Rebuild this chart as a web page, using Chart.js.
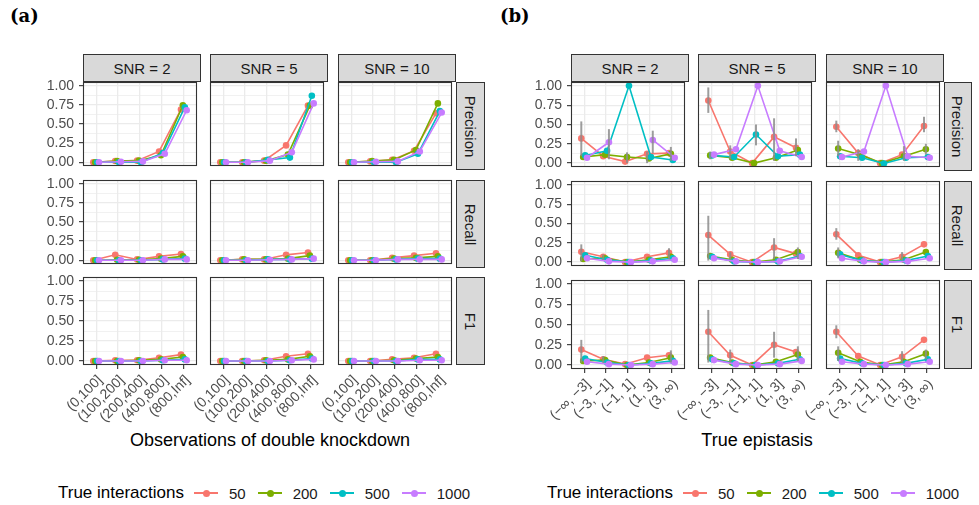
<!DOCTYPE html>
<html lang="en">
<head>
<meta charset="UTF-8">
<title>Precision, recall and F1 by SNR</title>
<script src="https://cdn.jsdelivr.net/npm/chart.js"></script>
<style>
    body { margin: 0; background: #fff; font-family: "Liberation Sans", Arial, sans-serif; }
    #fig { position: relative; width: 979px; height: 505px; overflow: hidden; }
    canvas { position: absolute; }
    .strip {
        position: absolute; box-sizing: border-box;
        background: #d9d9d9; border: 1px solid #333;
        color: #1a1a1a; font-size: 15px;
        display: flex; align-items: center; justify-content: center;
    }
    .strip.right span { transform: rotate(90deg); white-space: nowrap; }
    .tag { position: absolute; font-family: "DejaVu Serif", serif; font-weight: bold; font-size: 18px; }
    .xtitle { position: absolute; font-size: 18px; color: #000; transform: translateX(-50%); white-space: nowrap; }
    .legend { position: absolute; display: flex; align-items: center; font-size: 15px; color: #1a1a1a; height: 20px; }
    .legend .ttl { font-size: 17px; color: #000; }
    .key { position: relative; display: inline-block; width: 24px; height: 2px; margin-left: 12px; }
    .key i { position: absolute; left: 9px; top: -2.5px; width: 7px; height: 7px; border-radius: 50%; background: inherit; }
    .legend .ttl + .key { margin-left: 10px; }
    .lab { margin-left: 11px; }
</style>
</head>
<body>
<div id="fig">
    <div class="tag" style="left:10px;top:5px">(a)</div>
    <div class="tag" style="left:500px;top:5px">(b)</div>
    <div class="xtitle" style="left:270px;top:430px">Observations of double knockdown</div>
    <div class="xtitle" style="left:757px;top:430px">True epistasis</div>
</div>

<script>
// categories and labels
const seriesNames = ["50", "200", "500", "1000"];
const seriesColors = ["#F8766D", "#7CAE00", "#00BFC4", "#C77CFF"];
const snrLabels = ["SNR = 2", "SNR = 5", "SNR = 10"];
const metricLabels = ["Precision", "Recall", "F1"];
const obsBins = ["(0,100]", "(100,200]", "(200,400]", "(400,800]", "(800,Inf]"];
const epiBins = ["(\u2212\u221E, \u22123]", "(\u22123, \u22121]", "(\u22121, 1]", "(1, 3]", "(3, \u221E)"];
const yTickValues = [0, 0.125, 0.25, 0.375, 0.5, 0.625, 0.75, 0.875, 1];

// (a) rows = series 50, 200, 500, 1000 ; columns = obsBins
const obsPrecisionSnr2 = [
    [0.00, 0.015, 0.02, 0.14, 0.69],
    [0.00, 0.015, 0.02, 0.09, 0.745],
    [0.00, 0.00, 0.00, 0.12, 0.72],
    [0.00, 0.005, 0.01, 0.11, 0.68]
];
const obsPrecisionSnr5 = [
    [0.00, 0.00, 0.02, 0.22, 0.74],
    [0.00, 0.00, 0.02, 0.10, 0.74],
    [0.00, 0.00, 0.03, 0.06, 0.87],
    [0.00, 0.00, 0.02, 0.13, 0.77]
];
const obsPrecisionSnr10 = [
    [0.00, 0.01, 0.03, 0.15, 0.64],
    [0.00, 0.015, 0.03, 0.16, 0.77],
    [0.00, 0.00, 0.00, 0.11, 0.67],
    [0.00, 0.005, 0.01, 0.14, 0.65]
];
const obsRecallSnr2 = [
    [0.00, 0.07, 0.01, 0.05, 0.08],
    [0.00, 0.005, 0.005, 0.02, 0.05],
    [0.00, 0.00, 0.00, 0.01, 0.02],
    [0.00, 0.00, 0.00, 0.01, 0.01]
];
const obsRecallSnr5 = [
    [0.00, 0.01, 0.01, 0.07, 0.10],
    [0.00, 0.01, 0.01, 0.02, 0.06],
    [0.00, 0.00, 0.01, 0.01, 0.02],
    [0.00, 0.00, 0.005, 0.01, 0.02]
];
const obsRecallSnr10 = [
    [0.00, 0.00, 0.03, 0.06, 0.09],
    [0.00, 0.00, 0.02, 0.03, 0.05],
    [0.00, 0.00, 0.01, 0.02, 0.02],
    [0.00, 0.00, 0.01, 0.01, 0.01]
];
const obsF1Snr2 = [
    [0.00, 0.01, 0.01, 0.04, 0.08],
    [0.00, 0.00, 0.01, 0.02, 0.05],
    [0.00, 0.00, 0.00, 0.01, 0.02],
    [0.00, 0.00, 0.00, 0.01, 0.01]
];
const obsF1Snr5 = [
    [0.00, 0.00, 0.01, 0.06, 0.09],
    [0.00, 0.00, 0.01, 0.02, 0.06],
    [0.00, 0.00, 0.00, 0.01, 0.03],
    [0.00, 0.00, 0.00, 0.01, 0.02]
];
const obsF1Snr10 = [
    [0.00, 0.00, 0.02, 0.04, 0.09],
    [0.00, 0.00, 0.01, 0.03, 0.05],
    [0.00, 0.00, 0.00, 0.02, 0.02],
    [0.00, 0.00, 0.00, 0.01, 0.01]
];

// (b) rows = series ; columns = epiBins
const epiPrecisionSnr2 = [
    [0.32, 0.09, 0.02, 0.12, 0.13],
    [0.08, 0.11, 0.08, 0.06, 0.12],
    [0.10, 0.16, 1.00, 0.08, 0.04],
    [0.07, 0.27, null, 0.30, 0.07]
];
const epiPrecisionSnr5 = [
    [0.81, 0.15, 0.00, 0.34, 0.20],
    [0.10, 0.07, 0.00, 0.07, 0.17],
    [0.10, 0.08, 0.37, 0.09, 0.11],
    [0.11, 0.18, 1.00, 0.16, 0.08]
];
const epiPrecisionSnr10 = [
    [0.47, 0.13, 0.00, 0.11, 0.48],
    [0.19, 0.11, 0.00, 0.09, 0.18],
    [0.09, 0.07, -0.005, 0.07, 0.08],
    [0.08, 0.15, 1.00, 0.09, 0.07]
];
const epiRecallSnr2 = [
    [0.135, 0.07, 0.00, 0.07, 0.12],
    [0.04, 0.05, 0.00, 0.03, 0.07],
    [0.09, 0.03, 0.00, 0.02, 0.05],
    [0.05, 0.01, 0.00, 0.01, 0.03]
];
const epiRecallSnr5 = [
    [0.35, 0.10, 0.00, 0.19, 0.11],
    [0.08, 0.03, 0.00, 0.03, 0.13],
    [0.07, 0.01, 0.00, 0.01, 0.08],
    [0.05, 0.01, 0.00, 0.01, 0.07]
];
const epiRecallSnr10 = [
    [0.36, 0.09, 0.00, 0.07, 0.23],
    [0.12, 0.03, 0.00, 0.03, 0.13],
    [0.10, 0.02, 0.00, 0.02, 0.08],
    [0.05, 0.01, 0.00, 0.01, 0.05]
];
const epiF1Snr2 = [
    [0.19, 0.07, 0.01, 0.09, 0.12],
    [0.05, 0.06, 0.00, 0.03, 0.09],
    [0.08, 0.03, 0.00, 0.02, 0.05],
    [0.04, 0.01, 0.00, 0.01, 0.03]
];
const epiF1Snr5 = [
    [0.41, 0.12, 0.00, 0.25, 0.16],
    [0.09, 0.03, 0.00, 0.04, 0.13],
    [0.07, 0.02, 0.00, 0.02, 0.07],
    [0.06, 0.01, 0.00, 0.01, 0.05]
];
const epiF1Snr10 = [
    [0.41, 0.11, 0.00, 0.10, 0.31],
    [0.15, 0.04, 0.00, 0.04, 0.14],
    [0.08, 0.02, 0.00, 0.02, 0.07],
    [0.04, 0.01, 0.00, 0.01, 0.04]
];

// (b) error bars [low, high], same layout as the values
const _ = null;
const epiPrecisionSnr2Err = [
    [[0.09, 0.54], _, _, [0.00, 0.15], _],
    [_, _, [0.00, 0.14], _, [0.03, 0.21]],
    [_, _, _, _, _],
    [_, [0.05, 0.44], _, [0.13, 0.42], _]
];
const epiPrecisionSnr5Err = [
    [[0.65, 0.98], [0.05, 0.23], _, [0.03, 0.58], [0.09, 0.32]],
    [[0.05, 0.15], _, _, _, _],
    [_, _, [0.23, 0.50], _, _],
    [_, _, _, _, _]
];
const epiPrecisionSnr10Err = [
    [[0.40, 0.55], [0.03, 0.18], _, _, [0.40, 0.60]],
    [[0.09, 0.29], _, _, [0.03, 0.22], [0.11, 0.25]],
    [_, _, _, _, _],
    [_, _, _, _, _]
];
const epiRecallSnr2Err = [
    [[0.01, 0.23], [0.03, 0.10], _, _, [0.04, 0.18]],
    [_, _, _, _, _],
    [_, _, _, _, _],
    [_, _, _, _, _]
];
const epiRecallSnr5Err = [
    [[0.02, 0.60], [0.03, 0.13], _, [0.04, 0.31], _],
    [_, _, _, _, [0.04, 0.19]],
    [_, _, _, _, _],
    [_, _, _, _, _]
];
const epiRecallSnr10Err = [
    [[0.29, 0.44], _, _, [0.02, 0.13], _],
    [[0.05, 0.19], _, _, _, _],
    [_, _, _, _, _],
    [_, _, _, _, _]
];
const epiF1Snr2Err = [
    [[0.03, 0.31], [0.03, 0.11], _, _, _],
    [_, _, _, _, [0.03, 0.18]],
    [_, _, _, _, _],
    [_, _, _, _, _]
];
const epiF1Snr5Err = [
    [[0.03, 0.68], [0.03, 0.19], _, [0.09, 0.41], _],
    [_, _, _, _, [0.05, 0.23]],
    [_, _, _, _, _],
    [_, _, _, _, _]
];
const epiF1Snr10Err = [
    [[0.33, 0.49], _, _, [0.03, 0.17], _],
    [[0.05, 0.23], _, _, _, [0.07, 0.19]],
    [_, _, _, _, _],
    [_, _, _, _, _]
];

const obsGrid = [
    [obsPrecisionSnr2, obsPrecisionSnr5, obsPrecisionSnr10],
    [obsRecallSnr2, obsRecallSnr5, obsRecallSnr10],
    [obsF1Snr2, obsF1Snr5, obsF1Snr10]
];
const epiGrid = [
    [epiPrecisionSnr2, epiPrecisionSnr5, epiPrecisionSnr10],
    [epiRecallSnr2, epiRecallSnr5, epiRecallSnr10],
    [epiF1Snr2, epiF1Snr5, epiF1Snr10]
];
const epiErrGrid = [
    [epiPrecisionSnr2Err, epiPrecisionSnr5Err, epiPrecisionSnr10Err],
    [epiRecallSnr2Err, epiRecallSnr5Err, epiRecallSnr10Err],
    [epiF1Snr2Err, epiF1Snr5Err, epiF1Snr10Err]
];

// layout
const FONT = "'Liberation Sans', Arial, sans-serif";
const GRID = "#ebebeb";
const LEFT = 50, TOP = 8, BOTTOM = 62;
const dodge = [-0.13, -0.045, 0.045, 0.13];
const isMajor = v => Math.abs(v * 4 - Math.round(v * 4)) < 1e-6;

const panelA = { cols: [83, 210, 338], rows: [82, 180, 277], w: 118, h: 88, stripX: 456, stripW: 29 };
const panelB = { cols: [571, 698, 826], rows: [82, 181, 280], w: 118, h: 89, stripX: 944, stripW: 28 };

// grey error bars, drawn on the same scales as the points
const errBars = {
    id: "errbars",
    afterDatasetsDraw(chart, args, opts) {
        if (!opts.errs) return;
        const { ctx, scales: { x, y } } = chart;
        ctx.save();
        ctx.strokeStyle = "rgba(140,140,140,0.85)";
        ctx.lineWidth = 2;
        opts.errs.forEach((row, si) => row.forEach((e, i) => {
            if (!e) return;
            const px = x.getPixelForValue(i + 1 + dodge[si]);
            ctx.beginPath();
            ctx.moveTo(px, y.getPixelForValue(e[0]));
            ctx.lineTo(px, y.getPixelForValue(e[1]));
            ctx.stroke();
        }));
        ctx.restore();
    }
};

// ggplot-like panel border
const panelBorder = {
    id: "panelBorder",
    afterDraw(chart) {
        const { ctx, chartArea: a } = chart;
        ctx.save();
        ctx.strokeStyle = "#333";
        ctx.lineWidth = 1.1;
        ctx.strokeRect(a.left + 0.5, a.top + 0.5, a.right - a.left - 1, a.bottom - a.top - 1);
        ctx.restore();
    }
};

const fig = document.getElementById("fig");

function makeFacet(x0, y0, w, h, cats, series, errs, isLeft, isBottom) {
    const cv = document.createElement("canvas");
    const W = w + LEFT, H = h + TOP + (isBottom ? BOTTOM : 0);
    cv.width = W; cv.height = H;
    cv.style.left = (x0 - LEFT) + "px";
    cv.style.top = (y0 - TOP) + "px";
    cv.style.width = W + "px";
    cv.style.height = H + "px";
    fig.appendChild(cv);

    new Chart(cv, {
        type: "line",
        data: {
            datasets: series.map((vals, si) => ({
                label: seriesNames[si],
                data: vals.map((v, i) => ({ x: i + 1 + dodge[si], y: v })),
                borderColor: seriesColors[si],
                backgroundColor: seriesColors[si],
                borderWidth: 1.6,
                pointRadius: 3.3,
                pointBorderWidth: 0,
                tension: 0,
                spanGaps: false,
                order: 4 - si
            }))
        },
        options: {
            responsive: false,
            animation: false,
            events: [],
            layout: { padding: { top: TOP, left: 0, right: 0, bottom: 0 } },
            plugins: {
                legend: { display: false },
                tooltip: { enabled: false },
                errbars: { errs: errs }
            },
            scales: {
                x: {
                    type: "linear", min: 0.4, max: 5.6,
                    afterBuildTicks: a => { a.ticks = cats.map((c, i) => ({ value: i + 1 })); },
                    afterFit: a => { a.height = isBottom ? BOTTOM : 0; a.paddingLeft = 0; a.paddingRight = 0; },
                    border: { display: false },
                    grid: { color: GRID, lineWidth: 1.3, drawTicks: isBottom, tickLength: 4, tickColor: "#333", tickWidth: 1.1 },
                    ticks: {
                        display: isBottom, autoSkip: false, minRotation: 45, maxRotation: 45,
                        padding: 3, labelOffset: 4,
                        color: "#4d4d4d", font: { size: 14, family: FONT },
                        callback: v => cats[Math.round(v) - 1]
                    }
                },
                y: {
                    min: -0.05, max: 1.05,
                    afterBuildTicks: a => { a.ticks = yTickValues.map(v => ({ value: v })); },
                    afterFit: a => { a.width = LEFT; a.paddingTop = 0; a.paddingBottom = 0; },
                    border: { display: false },
                    grid: {
                        color: GRID,
                        lineWidth: c => isMajor(c.tick.value) ? 1.3 : 0.7,
                        drawTicks: isLeft, tickLength: 4, tickWidth: 1.1,
                        tickColor: c => isMajor(c.tick.value) ? "#333" : "rgba(0,0,0,0)"
                    },
                    ticks: {
                        display: isLeft, autoSkip: false, padding: 5, color: "#4d4d4d", font: { size: 14, family: FONT },
                        callback: v => isMajor(v) ? v.toFixed(2) : ""
                    }
                }
            }
        },
        plugins: [errBars, panelBorder]
    });
}

function addDiv(cls, style, html) {
    const d = document.createElement("div");
    d.className = cls;
    d.style.cssText = style;
    d.innerHTML = html;
    fig.appendChild(d);
}

function makeGrid(p, cats, grid, errGrid) {
    p.cols.forEach((cx, c) => {
        addDiv("strip", `left:${cx}px;top:54px;width:${p.w}px;height:28px`, snrLabels[c]);
    });
    p.rows.forEach((ry, r) => {
        addDiv("strip right", `left:${p.stripX}px;top:${ry}px;width:${p.stripW}px;height:${p.h}px`,
            `<span>${metricLabels[r]}</span>`);
        p.cols.forEach((cx, c) => {
            makeFacet(cx, ry, p.w, p.h, cats, grid[r][c], errGrid ? errGrid[r][c] : null, c === 0, r === 2);
        });
    });
}

function makeLegend(left) {
    let html = `<span class="ttl">True interactions</span>`;
    seriesNames.forEach((n, i) => {
        html += `<span class="key" style="background:${seriesColors[i]}"><i></i></span><span class="lab">${n}</span>`;
    });
    addDiv("legend", `left:${left}px;top:483px`, html);
}

makeGrid(panelA, obsBins, obsGrid, null);
makeGrid(panelB, epiBins, epiGrid, epiErrGrid);
makeLegend(58);
makeLegend(547);
</script>
</body>
</html>
